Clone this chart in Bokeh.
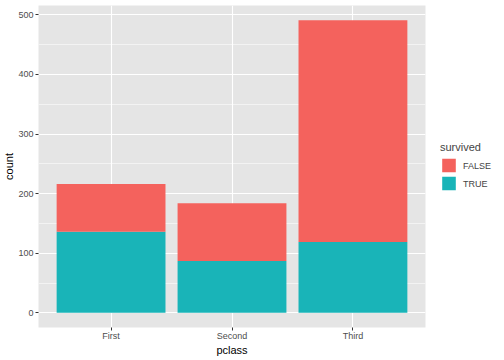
from bokeh.plotting import figure
from bokeh.models import (Range1d, FixedTicker, SingleIntervalTicker, Legend,
                          LegendItem, ColumnDataSource)
from bokeh.embed import file_html
from bokeh.resources import INLINE

# Data
classes = ["First", "Second", "Third"]
died = [80, 97, 372]        # survived == FALSE
lived = [136, 87, 119]      # survived == TRUE
legend_labels = ["FALSE", "TRUE"]

RED = "#F4625D"
TEAL = "#19B4B8"
FONT = "Liberation Sans"

xs = list(range(1, len(classes) + 1))
source = ColumnDataSource(dict(x=xs, TRUE=lived, FALSE=died))

totals = [a + b for a, b in zip(died, lived)]
ymax = max(totals)
pad = 0.05 * ymax

FW, FH = 387, 322
p = figure(frame_width=FW, frame_height=FH, output_backend="svg",
           toolbar_location=None,
           x_range=Range1d(0.4, len(classes) + 0.6),
           y_range=Range1d(-pad, ymax + pad),
           min_border_top=5, min_border_left=10, min_border_right=0,
           min_border_bottom=0)
p.background_fill_color = "#E5E5E5"
p.border_fill_color = "white"
p.outline_line_color = None

rs = p.vbar_stack(["TRUE", "FALSE"], x="x", width=0.9, color=[TEAL, RED],
                  line_color=None, source=source)
r_true, r_false = rs

# axes
p.xaxis.ticker = FixedTicker(ticks=xs)
p.xaxis.major_label_overrides = {x: c for x, c in zip(xs, classes)}
p.yaxis.ticker = SingleIntervalTicker(interval=100, num_minor_ticks=2)
for ax in (p.xaxis[0], p.yaxis[0]):
    ax.axis_line_color = None
    ax.major_tick_line_color = "#333333"
    ax.major_tick_out = 3
    ax.major_tick_in = 0
    ax.minor_tick_out = 0
    ax.minor_tick_in = 0
    ax.major_label_text_font = FONT
    ax.major_label_text_font_size = "9px"
    ax.major_label_text_color = "#4D4D4D"
    ax.axis_label_text_font = FONT
    ax.axis_label_text_font_size = "11px"
    ax.axis_label_text_font_style = "normal"
    ax.axis_label_text_color = "black"
    ax.axis_label_standoff = 0
p.yaxis.major_label_standoff = 2
p.xaxis.major_label_standoff = 0
p.xaxis.axis_label = "pclass"
p.yaxis.axis_label = "count"

# grids
p.xgrid.ticker = FixedTicker(ticks=xs)
p.xgrid.grid_line_color = "white"
p.xgrid.grid_line_width = 1.1
p.ygrid.grid_line_color = "white"
p.ygrid.grid_line_width = 1.1
p.ygrid.minor_grid_line_color = "white"
p.ygrid.minor_grid_line_width = 0.55

legend = Legend(items=[LegendItem(label=legend_labels[0], renderers=[r_false]),
                       LegendItem(label=legend_labels[1], renderers=[r_true])],
                title="survived", location="left")
legend.title_text_font = FONT
legend.title_text_font_size = "11px"
legend.title_text_font_style = "normal"
legend.title_standoff = 4
legend.label_text_font = FONT
legend.label_text_font_size = "9px"
legend.glyph_width = 17
legend.glyph_height = 17
legend.label_height = 17
legend.label_standoff = 6
legend.spacing = 1
legend.padding = 0
legend.margin = 15
legend.border_line_color = None
legend.background_fill_alpha = 0
p.add_layout(legend, "right")

open("out.html", "w").write(file_html(p, INLINE))
